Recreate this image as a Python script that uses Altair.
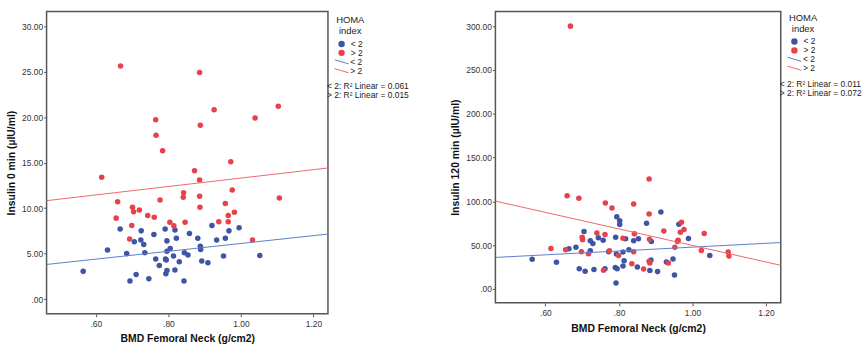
import altair as alt
import pandas as pd

FONT = "Liberation Sans"
homa = ["< 2", "> 2"]
fit_groups = ["< 2 fit", "> 2 fit"]
point_colors = ["#3e55a6", "#e8414b"]
line_colors = ["#5b7fc9", "#f0666d"]

x_domain = [0.464, 1.24]
x_ticks = [0.6, 0.8, 1.0, 1.2]
x_title = "BMD Femoral Neck (g/cm2)"

# ---------------- Left panel: Insulin 0 min ----------------
l_blue_x = [0.565, 0.632, 0.667, 0.685, 0.694, 0.711, 0.706, 0.725, 0.724, 0.732,
            0.735, 0.746, 0.760, 0.765, 0.775, 0.791, 0.796, 0.792, 0.794, 0.796,
            0.793, 0.796, 0.805, 0.818, 0.822, 0.814, 0.818, 0.830, 0.843, 0.844,
            0.854, 0.858, 0.881, 0.888, 0.889, 0.892, 0.909, 0.920, 0.933, 0.957,
            0.967, 0.995, 0.952, 1.052]
l_blue_y = [3.05, 5.4, 7.7, 5.0, 2.0, 2.7, 6.3, 7.5, 6.5, 6.0,
            5.1, 2.25, 7.1, 4.4, 3.7, 7.7, 6.4, 4.4, 4.3, 3.15,
            2.8, 5.25, 5.55, 7.6, 6.7, 4.75, 3.2, 4.1, 2.0, 5.1,
            4.85, 7.2, 6.7, 5.8, 5.45, 4.2, 4.0, 8.1, 6.5, 6.7,
            7.5, 7.85, 4.75, 4.8]
l_red_x = [0.668, 0.616, 0.660, 0.656, 0.701, 0.704, 0.720, 0.699, 0.693, 0.743,
           0.761, 0.765, 0.766, 0.784, 0.777, 0.804, 0.815, 0.842, 0.841, 0.846,
           0.872, 0.886, 0.888, 0.886, 0.886, 0.887, 0.926, 1.103, 1.039, 0.972,
           0.976, 1.106, 0.957, 0.982, 0.965, 0.965, 0.939, 1.032]
l_red_y = [25.6, 13.4, 10.7, 8.9, 10.1, 9.6, 9.8, 8.1, 6.6, 9.2,
           9.0, 19.7, 18.0, 16.3, 10.9, 8.45, 8.05, 11.7, 11.2, 8.45,
           14.1, 24.9, 19.1, 13.1, 11.3, 10.1, 20.8, 21.2, 19.9, 15.1,
           12.0, 11.1, 10.5, 9.55, 9.2, 8.5, 8.5, 6.5]
l_fit_blue = [3.81, 7.15]
l_fit_red = [10.82, 14.41]
l_r2 = ["0.061", "0.015"]
l_y_domain = [-1.6, 31.6]
l_y_ticks = [0, 5, 10, 15, 20, 25, 30]
l_y_title = "Insulin 0 min (\u00b5IU/ml)"

# ---------------- Right panel: Insulin 120 min ----------------
r_blue_x = [0.564, 0.630, 0.664, 0.683, 0.692, 0.708, 0.705, 0.722, 0.729, 0.722,
            0.732, 0.744, 0.757, 0.762, 0.772, 0.791, 0.794, 0.802, 0.802, 0.790,
            0.795, 0.792, 0.793, 0.811, 0.818, 0.811, 0.814, 0.827, 0.840, 0.853,
            0.850, 0.875, 0.914, 0.963, 0.888, 0.989, 1.047, 0.887, 0.929, 0.947,
            0.884, 0.905, 0.951]
r_blue_y = [33.7, 30.3, 45.8, 47.6, 23.1, 20.1, 65.4, 54.9, 51.8, 43.5,
            22.0, 58.3, 55.6, 23.1, 42.4, 59.0, 82.4, 77.9, 73.4, 24.3,
            23.1, 6.8, 39.7, 42.0, 57.1, 26.1, 32.2, 44.7, 54.9, 57.1,
            24.9, 74.8, 87.7, 73.7, 54.1, 57.5, 38.2, 32.9, 30.6, 34.0,
            20.9, 19.7, 15.9]
r_red_x = [0.668, 0.659, 0.691, 0.615, 0.655, 0.700, 0.701, 0.698, 0.717, 0.740,
           0.762, 0.763, 0.781, 0.774, 0.758, 0.799, 0.811, 0.840, 0.842, 0.840,
           0.835, 0.867, 0.882, 0.882, 0.922, 0.970, 0.967, 0.977, 0.961, 0.959,
           0.952, 1.032, 1.024, 1.097, 1.099, 0.883, 0.882, 0.884, 0.934]
r_red_y = [300.0, 106.2, 103.6, 46.1, 44.7, 59.0, 56.0, 42.4, 40.1, 63.9,
           62.0, 98.0, 92.3, 43.5, 21.2, 38.2, 57.8, 96.8, 62.8, 42.4,
           28.8, 22.7, 125.5, 85.5, 66.2, 76.0, 64.6, 67.7, 55.6, 54.1,
           47.6, 63.2, 43.9, 42.0, 37.4, 56.7, 31.4, 29.5, 29.5]
r_fit_blue = [35.9, 52.9]
r_fit_red = [100.2, 26.9]
r_r2 = ["0.011", "0.072"]
r_y_domain = [-15.9, 316.7]
r_y_ticks = [0, 50, 100, 150, 200, 250, 300]
r_y_title = "Insulin 120 min (\u00b5IU/ml)"

LABEL_EXPR = ("datum.value < 1 ? substring(format(datum.value, '.2f'), 1) "
              ": format(datum.value, '.2f')")


def panel(bx, by, rx, ry, fit_b, fit_r, r2, y_title, y_domain, y_ticks, w, h,
          leg_dy=0.0):
    pts = pd.DataFrame({
        "x": bx + rx,
        "y": by + ry,
        "g": [homa[0]] * len(bx) + [homa[1]] * len(rx),
    })
    fits = pd.DataFrame({
        "x": x_domain + x_domain,
        "y": fit_b + fit_r,
        "fit": [fit_groups[0]] * 2 + [fit_groups[1]] * 2,
    })
    xs = alt.Scale(domain=x_domain, nice=False, zero=False)
    ys = alt.Scale(domain=y_domain, nice=False, zero=False)
    xa = alt.Axis(values=x_ticks, labelExpr=LABEL_EXPR, title=x_title,
                  labelPadding=3, titlePadding=6)
    ya = alt.Axis(values=y_ticks, labelExpr=LABEL_EXPR, title=y_title,
                  labelPadding=1, titlePadding=5)

    points = alt.Chart(pts).mark_circle(size=31, opacity=1).encode(
        x=alt.X("x:Q", scale=xs, axis=xa),
        y=alt.Y("y:Q", scale=ys, axis=ya),
        color=alt.Color(
            "g:N",
            scale=alt.Scale(domain=homa, range=point_colors),
            legend=alt.Legend(
                title=["HOMA", "index"], orient="none", direction="vertical",
                legendX=w + 8.5, legendY=4 + leg_dy, padding=0,
                titleFontSize=9.5, titleFontWeight="normal", titleColor="#222",
                titleLineHeight=11, titleAnchor="middle", titleAlign="center",
                titlePadding=4, titleFont=FONT,
                labelFontSize=8.5, labelColor="#222", labelOffset=5, labelFont=FONT,
                symbolType="circle", symbolSize=42, symbolStrokeWidth=0,
                rowPadding=0,
            ),
        ),
    )
    lines = alt.Chart(fits).mark_line(strokeWidth=1, clip=True).encode(
        x=alt.X("x:Q", scale=xs),
        y=alt.Y("y:Q", scale=ys),
        stroke=alt.Stroke(
            "fit:N",
            scale=alt.Scale(domain=fit_groups, range=line_colors),
            legend=alt.Legend(
                title=None, orient="none", direction="vertical",
                legendX=w + 9.5, legendY=46.5 + leg_dy, padding=0,
                labelFontSize=8.5, labelColor="#222", labelOffset=4.5, labelFont=FONT,
                labelExpr="replace(datum.label, ' fit', '')",
                symbolType="M-2,-0.6L2,0.6", symbolSize=49, symbolStrokeWidth=1,
                rowPadding=0,
            ),
        ),
    )
    r2_text = "\n".join(f"{g}: R\u00b2 Linear = {v}" for g, v in zip(homa, r2))
    txt = alt.Chart(alt.Data(values=[{"t": r2_text}])).mark_text(
        align="left", baseline="middle", lineBreak="\n", fontSize=8.5,
        lineHeight=9, font=FONT, color="#222",
    ).encode(x=alt.value(w - 1), y=alt.value(75.5 + leg_dy), text="t:N")

    return alt.layer(points, lines, txt).properties(width=w, height=h)


left = panel(l_blue_x, l_blue_y, l_red_x, l_red_y, l_fit_blue, l_fit_red, l_r2,
             l_y_title, l_y_domain, l_y_ticks, 284, 305)
right = panel(r_blue_x, r_blue_y, r_red_x, r_red_y, r_fit_blue, r_fit_red, r_r2,
              r_y_title, r_y_domain, r_y_ticks, 288, 294, leg_dy=-2.5)

chart = alt.hconcat(left, right, spacing=40).resolve_scale(
    color="independent", stroke="independent"
).properties(
    padding={"left": 5, "top": 9, "right": 0, "bottom": 0},
    background="white",
).configure(font=FONT).configure_view(
    stroke="#555555", strokeWidth=1.5
).configure_axis(
    domain=False, grid=False, tickColor="#555555", tickSize=3, tickWidth=1,
    labelFontSize=8.5, labelColor="#333333", labelFont=FONT,
    titleFontSize=10.5, titleFontWeight="bold", titleColor="#111111", titleFont=FONT,
)

chart.save("out.html", embed_options={"renderer": "svg", "actions": False})
